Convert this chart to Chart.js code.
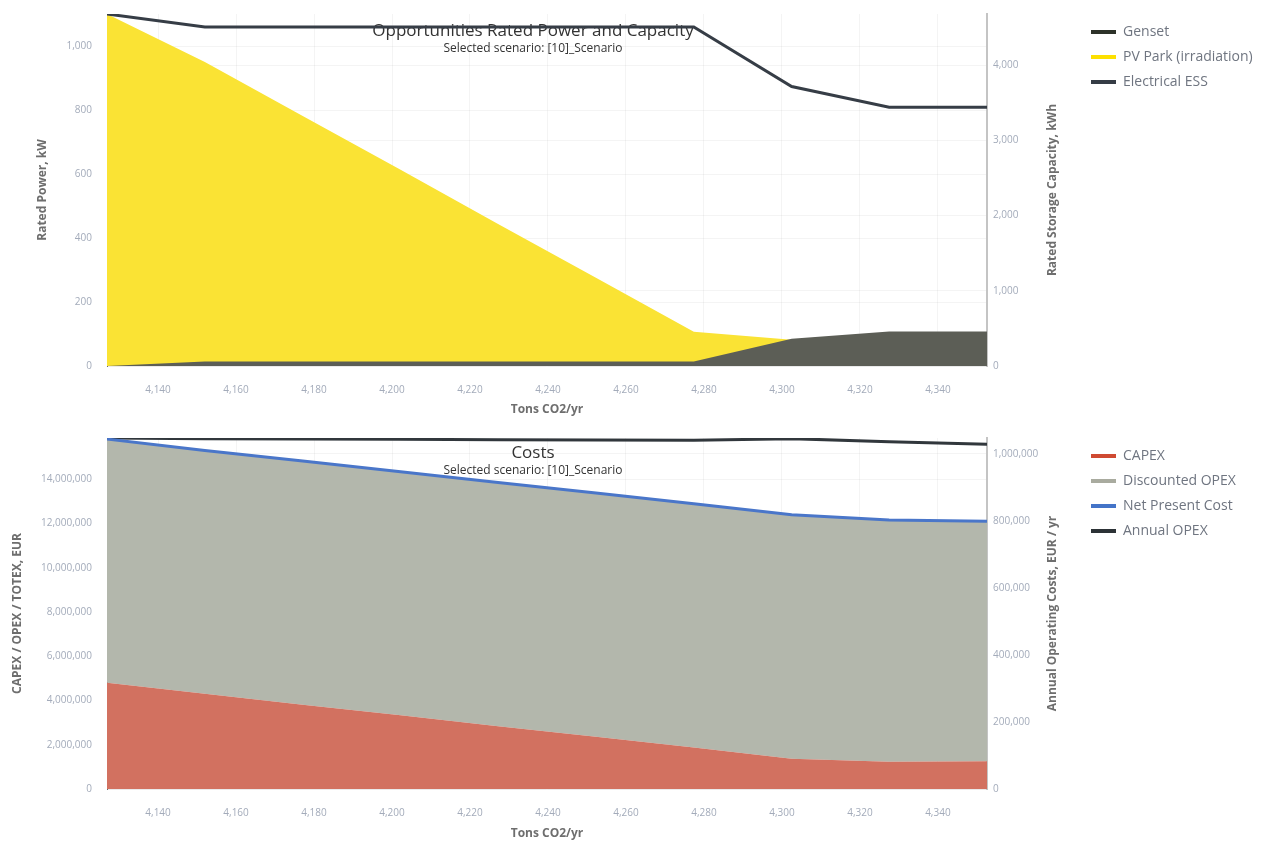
<!DOCTYPE html>
<html>
<head>
<meta charset="utf-8">
<script src="https://cdn.jsdelivr.net/npm/chart.js@4"></script>
<style>
  html, body { margin: 0; padding: 0; background: #ffffff; }
  #wrap { position: relative; width: 1265px; height: 843px; overflow: hidden; }
  canvas { display: block; }
</style>
</head>
<body>
<div id="wrap">
  <canvas id="power" width="1265" height="422"></canvas>
  <canvas id="costs" width="1265" height="421"></canvas>
</div>
<script>
// Scenario emission levels, Tons CO2/yr
const co2 = [4126.9, 4152.0, 4177.1, 4202.2, 4227.2, 4252.3, 4277.4, 4302.5, 4327.5, 4352.6];

// Rated power (kW) and storage capacity (kWh)
const gensetKW = [0, 14, 14, 14, 14, 14, 14, 85, 108, 108];
const pvKW     = [1100, 950, 781, 613, 444, 276, 107, 82, 80, 80];
const essKWh   = [4678, 4505, 4505, 4505, 4505, 4505, 4505, 3715, 3440, 3440];

// Costs, EUR and EUR / yr
const capexEUR      = [4800000, 4300000, 3810000, 3330000, 2840000, 2360000, 1870000, 1370000, 1230000, 1250000];
const discOpexEUR   = [11010000, 11000000, 11010000, 11010000, 11010000, 11010000, 11020000, 11020000, 10930000, 10850000];
const npcEUR        = [15810000, 15300000, 14820000, 14340000, 13850000, 13370000, 12890000, 12390000, 12160000, 12100000];
const annualOpexEUR = [1047000, 1045000, 1044000, 1043000, 1042000, 1041000, 1040000, 1045000, 1036000, 1028000];

const scenarioLabel = 'Selected scenario: [10]_Scenario';

// Layout constants
const LEFT_AXIS_W = 107;
const PLOT_RIGHT = 987;
const LEGEND_W = 185;
const TITLE_X = 533;

const FONT = "'Open Sans', 'Noto Sans', sans-serif";
const TICK_COLOR = '#a3abba';
const AXIS_TITLE_COLOR = '#6e6e6e';
const GRID_COLOR = 'rgba(0,0,0,0.045)';

Chart.defaults.font.family = FONT;

const pts = (ys) => co2.map((x, i) => ({ x, y: ys[i] }));

// Chart title/subtitle floating over the plot, plus an upward-reading title for the right axis
const overlayText = {
  id: 'overlayText',
  beforeDatasetsDraw(chart, args, o) {
    const { ctx, chartArea } = chart;
    ctx.save();
    ctx.fillStyle = '#333333';
    ctx.textAlign = 'center';
    ctx.textBaseline = 'middle';
    ctx.font = '17px ' + FONT;
    ctx.fillText(o.title, TITLE_X, chartArea.top + o.titleDy);
    ctx.font = '12px ' + FONT;
    ctx.fillText(o.subtitle, TITLE_X, chartArea.top + o.subtitleDy);
    ctx.restore();
  },
  afterDraw(chart, args, o) {
    const { ctx, chartArea } = chart;
    ctx.save();
    ctx.translate(chartArea.right + 66, (chartArea.top + chartArea.bottom) / 2);
    ctx.rotate(-Math.PI / 2);
    ctx.fillStyle = AXIS_TITLE_COLOR;
    ctx.textAlign = 'center';
    ctx.textBaseline = 'middle';
    ctx.font = 'bold 12px ' + FONT;
    ctx.fillText(o.rightTitle, 0, 0);
    ctx.restore();
  }
};

// Keep both legends the same width so the plots line up
const fixedLegend = {
  id: 'fixedLegend',
  beforeLayout(chart) {
    const lg = chart.legend;
    if (lg && !lg._fixedWidth) {
      const fit = lg.fit;
      lg.fit = function () { fit.call(this); this.width = LEGEND_W; };
      lg._fixedWidth = true;
    }
  }
};

function legendOptions() {
  return {
    position: 'right',
    align: 'start',
    labels: {
      boxWidth: 25,
      boxHeight: 4,
      padding: 11,
      color: '#6f7580',
      font: { size: 14 },
      generateLabels: (chart) => chart.data.datasets.map((ds, i) => ({
        text: ds.label,
        fillStyle: ds.legendColor,
        strokeStyle: ds.legendColor,
        lineWidth: 0,
        fontColor: '#6f7580',
        hidden: !chart.isDatasetVisible(i),
        datasetIndex: i
      }))
    }
  };
}

// Tick values every `step` from zero up to the axis maximum
function stepTicks(step) {
  return (s) => {
    const t = [];
    for (let v = 0; v <= s.max + 1e-9; v += step) t.push({ value: v });
    s.ticks = t;
  };
}

function noEdgePadding(s) {
  s.paddingTop = 0; s.paddingBottom = 0; s.paddingLeft = 0; s.paddingRight = 0;
}

function xScale(tickPad, titlePadBottom, height) {
  return {
    type: 'linear',
    position: 'bottom',
    min: 4126.9,
    max: 4352.6,
    ticks: { stepSize: 20, includeBounds: false, padding: tickPad, color: TICK_COLOR, font: { size: 10 } },
    grid: { color: GRID_COLOR, drawTicks: false },
    border: { display: false },
    title: { display: true, text: 'Tons CO2/yr', color: AXIS_TITLE_COLOR, font: { size: 12, weight: 'bold' }, padding: { top: 0, bottom: titlePadBottom } },
    afterFit: (s) => { s.height = height; noEdgePadding(s); }
  };
}

function leftScale(max, step, title, titlePad, stacked) {
  return {
    type: 'linear',
    position: 'left',
    min: 0,
    max: max,
    stacked: stacked,
    ticks: { padding: 15, color: TICK_COLOR, font: { size: 10 } },
    afterBuildTicks: stepTicks(step),
    grid: { color: GRID_COLOR, drawTicks: false },
    border: { display: true, color: '#6a6a6a', width: 1 },
    title: { display: true, text: title, color: AXIS_TITLE_COLOR, font: { size: 12, weight: 'bold' }, padding: { top: titlePad, bottom: 0 } },
    afterFit: (s) => { s.width = LEFT_AXIS_W; noEdgePadding(s); }
  };
}

function rightScale(max, step) {
  return {
    type: 'linear',
    position: 'right',
    min: 0,
    max: max,
    ticks: { padding: 6, color: TICK_COLOR, font: { size: 10 } },
    afterBuildTicks: stepTicks(step),
    grid: { color: GRID_COLOR, drawTicks: false },
    border: { display: true, color: '#c4c4c4', width: 2 },
    afterFit: (s) => { s.width = s.chart.width - LEGEND_W - PLOT_RIGHT; noEdgePadding(s); }
  };
}

const common = {
  responsive: false,
  animation: false,
  devicePixelRatio: 1,
  locale: 'en-US',
  elements: { point: { radius: 0, hoverRadius: 0 }, line: { tension: 0 } }
};

new Chart(document.getElementById('power'), {
  type: 'line',
  data: {
    datasets: [
      { label: 'Genset', data: pts(gensetKW), yAxisID: 'y', legendColor: '#2d3229',
        backgroundColor: '#5c5e56', borderWidth: 0, borderColor: '#5c5e56', fill: 'origin' },
      { label: 'PV Park (irradiation)', data: pts(pvKW), yAxisID: 'y', legendColor: '#fde000',
        backgroundColor: '#fae334', borderWidth: 0, borderColor: '#fae334', fill: 'origin' },
      { label: 'Electrical ESS', data: pts(essKWh), yAxisID: 'y2', legendColor: '#353c45',
        borderColor: '#363d46', borderWidth: 3, fill: false }
    ]
  },
  options: Object.assign({}, common, {
    layout: { padding: { top: 14, left: 0, right: 0, bottom: 0 } },
    scales: {
      x: xScale(18, 5, 56),
      y: leftScale(1100, 200, 'Rated Power, kW', 35, false),
      y2: rightScale(4678, 1000)
    },
    plugins: {
      legend: legendOptions(),
      tooltip: { enabled: false },
      filler: { drawTime: 'beforeDatasetsDraw' },
      overlayText: { title: 'Opportunities Rated Power and Capacity', subtitle: scenarioLabel,
        titleDy: 17, subtitleDy: 35, rightTitle: 'Rated Storage Capacity, kWh' }
    }
  }),
  plugins: [fixedLegend, overlayText]
});

new Chart(document.getElementById('costs'), {
  type: 'line',
  data: {
    datasets: [
      { label: 'CAPEX', data: pts(capexEUR), yAxisID: 'y', stack: 'cost', legendColor: '#cf4a32',
        backgroundColor: '#d27160', borderWidth: 0, borderColor: '#d27160', fill: 'origin' },
      { label: 'Discounted OPEX', data: pts(discOpexEUR), yAxisID: 'y', stack: 'cost', legendColor: '#a9ab9f',
        backgroundColor: '#b3b7ac', borderWidth: 0, borderColor: '#b3b7ac', fill: '-1' },
      { label: 'Net Present Cost', data: pts(npcEUR), yAxisID: 'y', stack: 'npc', legendColor: '#4474c8',
        borderColor: '#4a76c9', borderWidth: 3, fill: false },
      { label: 'Annual OPEX', data: pts(annualOpexEUR), yAxisID: 'y2', legendColor: '#2c3236',
        borderColor: '#31373c', borderWidth: 3, fill: false }
    ]
  },
  options: Object.assign({}, common, {
    layout: { padding: { top: 16, left: 0, right: 0, bottom: 0 } },
    scales: {
      x: xScale(18, 2, 54),
      y: leftScale(15860000, 2000000, 'CAPEX / OPEX / TOTEX, EUR', 10, true),
      y2: rightScale(1047000, 200000)
    },
    plugins: {
      legend: legendOptions(),
      tooltip: { enabled: false },
      filler: { drawTime: 'beforeDatasetsDraw' },
      overlayText: { title: 'Costs', subtitle: scenarioLabel,
        titleDy: 15, subtitleDy: 33, rightTitle: 'Annual Operating Costs, EUR / yr' }
    }
  }),
  plugins: [fixedLegend, overlayText]
});
</script>
</body>
</html>
